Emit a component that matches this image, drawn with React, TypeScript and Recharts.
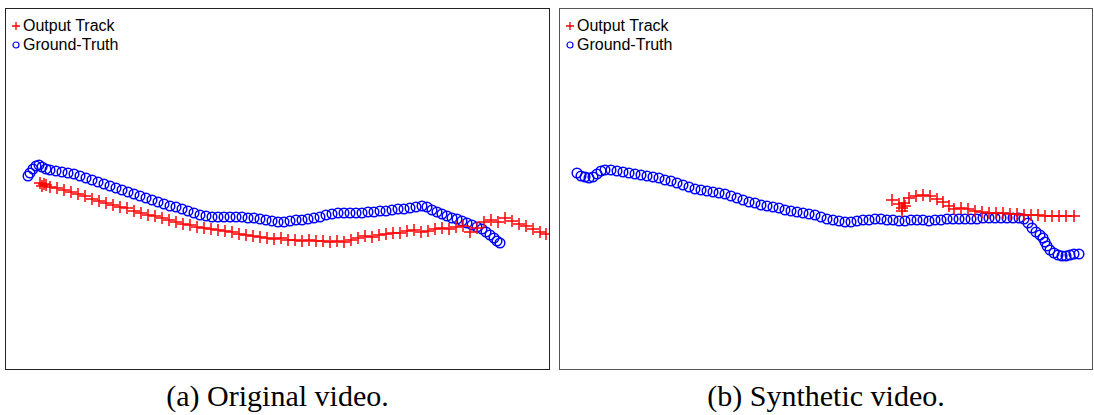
import React from 'react'
import { ScatterChart, Scatter, XAxis, YAxis } from 'recharts'

// Track positions in frame pixels (x right, y down), panel (a) original video
const origTruthX = [23, 25, 28, 31, 34, 37, 41, 45, 51, 57, 63, 69, 75, 81, 87, 93, 99, 105, 111, 117, 123, 129, 135, 141, 147, 153, 159, 165, 171, 177, 183, 189, 195, 201, 207, 213, 219, 225, 231, 237, 243, 249, 255, 261, 267, 273, 279, 285, 291, 297, 303, 309, 315, 321, 327, 333, 339, 345, 351, 357, 363, 369, 375, 381, 387, 393, 399, 405, 411, 417, 422, 427, 432, 437, 442, 447, 452, 457, 462, 467, 472, 477, 481, 485, 489, 492, 495]
const origTruthY = [168, 165, 161, 158, 157, 159, 161, 162, 163, 164, 165, 166, 168, 170, 172, 174, 176, 178, 180, 182, 184, 186, 188, 190, 192, 194, 196, 198, 199, 201, 203, 205, 207, 208, 209, 209, 209, 209, 209, 209, 210, 210, 211, 212, 213, 214, 214, 213, 212, 212, 211, 210, 209, 207, 206, 205, 205, 205, 205, 205, 204, 204, 203, 203, 202, 201, 201, 200, 199, 198, 199, 202, 204, 206, 208, 210, 211, 213, 215, 217, 219, 221, 224, 227, 230, 233, 235]
const origTrackX = [35, 37, 39, 41, 45, 52, 59, 66, 73, 80, 87, 94, 101, 108, 115, 122, 129, 136, 143, 150, 157, 164, 171, 178, 185, 192, 199, 206, 213, 220, 227, 234, 241, 248, 255, 262, 269, 276, 283, 290, 297, 304, 311, 318, 325, 332, 339, 346, 353, 360, 367, 374, 381, 388, 395, 402, 409, 416, 423, 430, 437, 444, 451, 458, 465, 472, 479, 486, 493, 500, 507, 514, 521, 528, 535, 541]
const origTrackY = [175, 178, 176, 177, 179, 180, 182, 184, 186, 188, 191, 193, 195, 197, 199, 200, 203, 205, 207, 208, 210, 212, 214, 216, 217, 219, 220, 221, 222, 223, 224, 226, 227, 228, 229, 230, 231, 230, 232, 232, 233, 232, 233, 233, 234, 233, 234, 232, 230, 228, 229, 227, 226, 225, 225, 223, 222, 224, 223, 221, 220, 221, 219, 218, 224, 220, 214, 212, 214, 210, 213, 216, 218, 221, 224, 226]

// panel (b) synthetic video
const synTruthX = [18, 22, 26, 30, 34, 38, 42, 46, 52, 58, 64, 70, 76, 82, 88, 94, 100, 106, 112, 118, 124, 130, 136, 142, 148, 154, 160, 166, 172, 178, 184, 190, 196, 202, 208, 214, 220, 226, 232, 238, 244, 250, 256, 262, 268, 274, 280, 286, 292, 298, 304, 310, 316, 322, 328, 334, 340, 346, 352, 358, 364, 370, 376, 382, 388, 394, 400, 406, 412, 418, 424, 430, 436, 442, 448, 454, 460, 465, 469, 473, 477, 481, 484, 486, 488, 491, 495, 499, 503, 507, 511, 515, 520]
const synTruthY = [165, 168, 169, 170, 169, 166, 163, 162, 162, 163, 164, 165, 166, 167, 168, 169, 170, 172, 173, 175, 177, 179, 181, 182, 183, 184, 185, 186, 188, 190, 192, 194, 195, 197, 198, 199, 200, 202, 203, 204, 205, 206, 207, 209, 211, 212, 213, 214, 214, 213, 212, 212, 211, 211, 212, 212, 213, 213, 212, 212, 212, 213, 212, 212, 211, 211, 211, 211, 211, 211, 210, 210, 210, 210, 210, 210, 210, 211, 215, 220, 224, 227, 230, 234, 238, 242, 245, 247, 248, 248, 247, 246, 246]
const synTrackX = [333, 340, 343, 345, 343, 346, 350, 357, 364, 371, 378, 384, 390, 395, 402, 409, 416, 423, 430, 437, 444, 451, 458, 465, 472, 479, 486, 493, 500, 507, 515]
const synTrackY = [192, 196, 200, 195, 203, 198, 190, 188, 187, 188, 191, 194, 198, 201, 200, 201, 203, 204, 205, 205, 205, 206, 206, 207, 207, 207, 208, 208, 208, 208, 208]

const seriesNames = ['Output Track', 'Ground-Truth']
const captions = ['(a) Original video.', '(b) Synthetic video.']

const RED = '#ff0000'
const BLUE = '#0000ff'

const toPoints = (xs: number[], ys: number[]) => xs.map((x, i) => ({ x, y: ys[i] }))

const PlusShape = (props: any) => {
  const { cx, cy } = props
  if (cx == null || cy == null) return null
  return (
    <path
      d={`M${cx - 6},${cy}H${cx + 6}M${cx},${cy - 6}V${cy + 6}`}
      stroke={RED}
      strokeWidth={1.5}
      fill="none"
    />
  )
}

const CircleShape = (props: any) => {
  const { cx, cy } = props
  if (cx == null || cy == null) return null
  return <circle cx={cx} cy={cy} r={4.8} stroke={BLUE} strokeWidth={1.5} fill="none" />
}

function LegendBox() {
  const row: React.CSSProperties = { display: 'flex', alignItems: 'center', height: 19 }
  return (
    <div style={{ position: 'absolute', left: 6, top: 8, fontFamily: 'Liberation Sans, Arial, sans-serif', fontSize: 16, color: '#000' }}>
      <div style={row}>
        <svg width={10} height={12} style={{ marginRight: 2 }}>
          <path d="M1,6H9M5,2V10" stroke={RED} strokeWidth={1.3} />
        </svg>
        {seriesNames[0]}
      </div>
      <div style={row}>
        <svg width={10} height={12} style={{ marginRight: 2 }}>
          <circle cx={5} cy={6} r={3} stroke={BLUE} strokeWidth={1.2} fill="none" />
        </svg>
        {seriesNames[1]}
      </div>
    </div>
  )
}

interface PanelProps {
  left: number
  width: number
  track: { x: number; y: number }[]
  truth: { x: number; y: number }[]
  border: string
  caption: string
}

function Panel({ left, width, track, truth, border, caption }: PanelProps) {
  const height = 362
  return (
    <>
      <div style={{ position: 'absolute', left, top: 8, width, height }}>
        <ScatterChart width={width} height={height} margin={{ top: 0, right: 0, bottom: 0, left: 0 }}>
          <XAxis type="number" dataKey="x" domain={[0, width]} hide />
          <YAxis type="number" dataKey="y" domain={[0, height]} reversed hide />
          <Scatter name={seriesNames[1]} data={truth} shape={CircleShape} isAnimationActive={false} />
          <Scatter name={seriesNames[0]} data={track} shape={PlusShape} isAnimationActive={false} />
        </ScatterChart>
        <div style={{ position: 'absolute', inset: 0, border, boxSizing: 'border-box', pointerEvents: 'none' }} />
        <LegendBox />
      </div>
      <div
        style={{
          position: 'absolute',
          left,
          width,
          top: 379,
          textAlign: 'center',
          fontFamily: 'Liberation Serif, Times New Roman, serif',
          fontSize: 30,
          color: '#000'
        }}
      >
        {caption}
      </div>
    </>
  )
}

export default function App() {
  return (
    <div style={{ position: 'absolute', left: 0, top: 0, width: 1094, height: 415, background: '#fff' }}>
      <Panel
        left={5}
        width={545}
        track={toPoints(origTrackX, origTrackY)}
        truth={toPoints(origTruthX, origTruthY)}
        border="1px solid #222"
        caption={captions[0]}
      />
      <Panel
        left={559}
        width={534}
        track={toPoints(synTrackX, synTrackY)}
        truth={toPoints(synTruthX, synTruthY)}
        border="1.5px solid #555"
        caption={captions[1]}
      />
    </div>
  )
}
